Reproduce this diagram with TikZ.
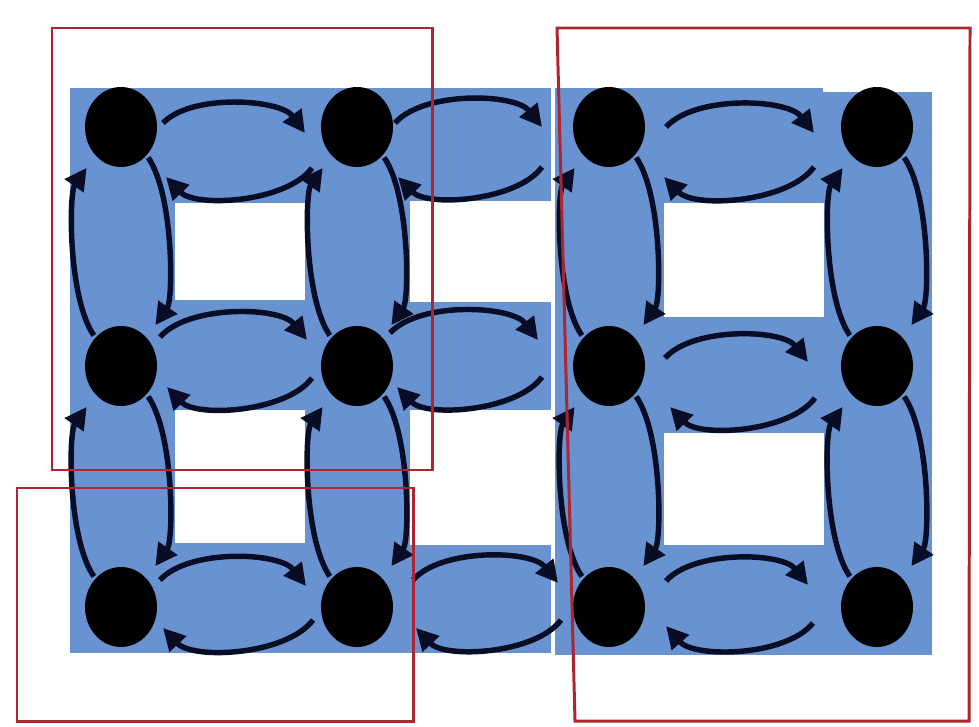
\documentclass[tikz,border=0pt]{standalone}
\usetikzlibrary{arrows.meta,shapes.geometric,calc}
\definecolor{gridblue}{RGB}{104,146,208}
\definecolor{cutred}{RGB}{172,38,50}
\definecolor{arcink}{RGB}{8,12,36}
\tikzset{
  site/.style={ellipse,fill=black,inner sep=0pt,minimum width=1.44cm,minimum height=1.6cm},
  hop/.style={draw=arcink,line width=3.1pt,-{Triangle[length=0.44cm,width=0.44cm]}},
  cut/.style={draw=cutred,line width=1.7pt}
}
\begin{document}
\begin{tikzpicture}[x=0.02cm,y=-0.02cm]
\useasboundingbox (0,0) rectangle (979,726);
\fill[gridblue] (70,88) rectangle (551,653);        % left block
\fill[white] (175,203) rectangle (305,300);         % its holes
\fill[white] (175,410) rectangle (305,543);
\fill[white] (410,201) rectangle (551,302);
\fill[white] (410,410) rectangle (551,545);
\fill[gridblue] (555,88) rectangle (823,655);       % right block
\fill[gridblue] (823,92) rectangle (932,655);
\fill[white] (664,203) rectangle (824,317);         % its holes
\fill[white] (664,433) rectangle (824,545);
% the sites
\foreach \c/\x in {0/121,1/357,2/609,3/877}
  \foreach \r/\y in {0/127,1/366,2/607}
    \node[site] (n-\r-\c) at (\x,\y) {};
% hops along the rows, ends given as offsets from the sites
\foreach \r/\a/\b/\p/\q/\s/\t in {0/0/1/{42,-4}/{-52,6}/{-45,41}/{45,50}, 1/0/1/{39,-29}/{-50,-26}/{-45,12}/{46,21},
    2/0/1/{39,-27}/{-51,-21}/{-44,13}/{42,21}, 0/1/1/{38,-4}/{185,0}/{185,40}/{41,50},
    1/1/1/{33,-33}/{181,-26}/{185,11}/{40,21}, 2/1/1/{56,-27}/{201,-24}/{204,13}/{59,21},
    0/2/3/{57,0}/{-63,6}/{-63,40}/{55,50}, 1/2/3/{56,-8}/{-69,-4}/{-62,32}/{61,41},
    2/2/3/{57,-26}/{-69,-22}/{-64,16}/{57,19}} {
  \draw[hop] ($(n-\r-\a)+(\p)$) to[bend left=50,looseness=0.75] ($(n-\r-\b)+(\q)$);
  \draw[hop] ($(n-\r-\b)+(\s)$) to[bend left=50,looseness=0.75] ($(n-\r-\a)+(\t)$);
}
% hops along the columns
\foreach \c in {0,...,3}
  \foreach \r/\s in {0/1,1/2} {
    \draw[hop,shorten <=0.05cm,shorten >=0.3cm] (n-\r-\c.-48) to[bend left=35,looseness=0.66] (n-\s-\c.48);
    \draw[hop,shorten <=0.05cm,shorten >=0.3cm] (n-\s-\c.132) to[bend left=35,looseness=0.66] (n-\r-\c.-132);
  }
% the partitions
\draw[cut] (52,28) rectangle (432,470);
\draw[cut] (17,488) rectangle (413,721);
\draw[cut] (557,28) -- (970,28) -- (969,721) -- (575,721) -- cycle;
\end{tikzpicture}
\end{document}
